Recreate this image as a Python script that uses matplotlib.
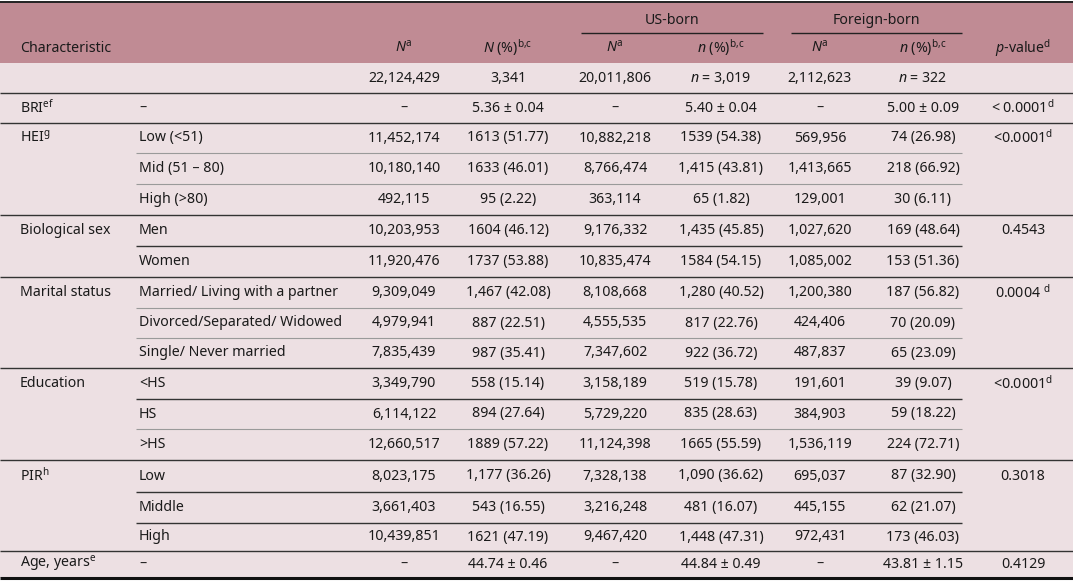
import matplotlib.pyplot as plt
from matplotlib.patches import Rectangle

plt.rcParams['font.family'] = ['Noto Sans', 'DejaVu Sans']
plt.rcParams['mathtext.fontset'] = 'custom'
plt.rcParams['mathtext.rm'] = 'Noto Sans'
plt.rcParams['mathtext.it'] = 'Noto Sans:italic'
plt.rcParams['mathtext.bf'] = 'Noto Sans:bold'

# table content, one entry per body row
groups = ['', 'BRI$^{\\rm ef}$', 'HEI$^{\\rm g}$', '', '', 'Biological sex', '',
          'Marital status', '', '', 'Education', '', '', 'PIR$^{\\rm h}$', '', '',
          'Age, years$^{\\rm e}$']
categories = ['', '–', 'Low (<51)', 'Mid (51 – 80)', 'High (>80)', 'Men', 'Women',
              'Married/ Living with a partner', 'Divorced/Separated/ Widowed',
              'Single/ Never married', '<HS', 'HS', '>HS', 'Low', 'Middle', 'High', '–']
total_N = ['22,124,429', '–', '11,452,174', '10,180,140', '492,115', '10,203,953',
           '11,920,476', '9,309,049', '4,979,941', '7,835,439', '3,349,790',
           '6,114,122', '12,660,517', '8,023,175', '3,661,403', '10,439,851', '–']
total_n = ['3,341', '5.36 ± 0.04', '1613 (51.77)', '1633 (46.01)', '95 (2.22)',
           '1604 (46.12)', '1737 (53.88)', '1,467 (42.08)', '887 (22.51)',
           '987 (35.41)', '558 (15.14)', '894 (27.64)', '1889 (57.22)',
           '1,177 (36.26)', '543 (16.55)', '1621 (47.19)', '44.74 ± 0.46']
us_N = ['20,011,806', '–', '10,882,218', '8,766,474', '363,114', '9,176,332',
        '10,835,474', '8,108,668', '4,555,535', '7,347,602', '3,158,189',
        '5,729,220', '11,124,398', '7,328,138', '3,216,248', '9,467,420', '–']
us_n = ['$n$ = 3,019', '5.40 ± 0.04', '1539 (54.38)', '1,415 (43.81)', '65 (1.82)',
        '1,435 (45.85)', '1584 (54.15)', '1,280 (40.52)', '817 (22.76)',
        '922 (36.72)', '519 (15.78)', '835 (28.63)', '1665 (55.59)',
        '1,090 (36.62)', '481 (16.07)', '1,448 (47.31)', '44.84 ± 0.49']
fb_N = ['2,112,623', '–', '569,956', '1,413,665', '129,001', '1,027,620',
        '1,085,002', '1,200,380', '424,406', '487,837', '191,601', '384,903',
        '1,536,119', '695,037', '445,155', '972,431', '–']
fb_n = ['$n$ = 322', '5.00 ± 0.09', '74 (26.98)', '218 (66.92)', '30 (6.11)',
        '169 (48.64)', '153 (51.36)', '187 (56.82)', '70 (20.09)', '65 (23.09)',
        '39 (9.07)', '59 (18.22)', '224 (72.71)', '87 (32.90)', '62 (21.07)',
        '173 (46.03)', '43.81 ± 1.15']
p_values = ['', '< 0.0001$^{\\rm d}$', '<0.0001$^{\\rm d}$', '', '', '0.4543', '',
            '0.0004 $^{\\rm d}$', '', '', '<0.0001$^{\\rm d}$', '', '', '0.3018', '',
            '', '0.4129']

col_heads = ['$N^{\\rm a}$', '$N$ (%)$^{\\rm b{,}c}$', '$N^{\\rm a}$', '$n$ (%)$^{\\rm b{,}c}$',
             '$N^{\\rm a}$', '$n$ (%)$^{\\rm b{,}c}$', '$p$-value$^{\\rm d}$']

# layout in pixels
W, H = 1073, 585
col_x = [404, 508, 615, 721, 820, 923, 1023]
row_lines = [63, 93, 123, 153, 184, 215, 246, 277, 308, 338, 368, 399, 429, 460,
             492, 523, 551, 578]
group_start = [0, 1, 2, 5, 7, 10, 13, 16]
dark_inner = [6, 11, 14, 15]   # inner separators drawn darker

header_col = '#c08b94'
body_col = '#ede0e3'
fs = 10.2

fig = plt.figure(figsize=(W / 100, H / 100), dpi=100)
fig.patch.set_facecolor('white')
ax = fig.add_axes([0, 0, 1, 1])
ax.set_xlim(0, W)
ax.set_ylim(H, 0)
ax.axis('off')

ax.add_patch(Rectangle((0, 2), W, 61, color=header_col, lw=0))
ax.add_patch(Rectangle((0, 63), W, 515, color=body_col, lw=0))

# header
ax.hlines(2, 0, W, color='#222222', lw=1.4)
ax.text(20, 48, 'Characteristic', fontsize=fs, va='center', color='#1a1a1a')
for x, h in zip(col_x, col_heads):
    ax.text(x, 48, h, fontsize=fs, ha='center', va='center', color='#1a1a1a')
ax.text(672, 20, 'US-born', fontsize=fs, ha='center', va='center', color='#1a1a1a')
ax.text(876, 20, 'Foreign-born', fontsize=fs, ha='center', va='center', color='#1a1a1a')
ax.hlines(33, 581, 763, color='#222222', lw=1.0)
ax.hlines(33, 791, 962, color='#222222', lw=1.0)

# body
cols = [total_N, total_n, us_N, us_n, fb_N, fb_n, p_values]
for i in range(len(categories)):
    y = (row_lines[i] + row_lines[i + 1]) / 2
    ax.text(20, y, groups[i], fontsize=fs, va='center', color='#1a1a1a')
    ax.text(139, y, categories[i], fontsize=fs, va='center', color='#1a1a1a')
    for x, c in zip(col_x, cols):
        if c[i]:
            ax.text(x, y, c[i], fontsize=fs, ha='center', va='center', color='#1a1a1a')

# separators
for i in range(1, len(categories)):
    y = row_lines[i]
    if i in group_start:
        ax.hlines(y, 0, W, color='#333333', lw=1.0)
    elif i in dark_inner:
        ax.hlines(y, 136, 962, color='#333333', lw=1.0)
    else:
        ax.hlines(y, 136, 962, color='#9a9a9a', lw=0.8)
ax.hlines(578, 0, W, color='#111111', lw=2.2)

fig.savefig('out.png', dpi=100, facecolor=fig.get_facecolor())
